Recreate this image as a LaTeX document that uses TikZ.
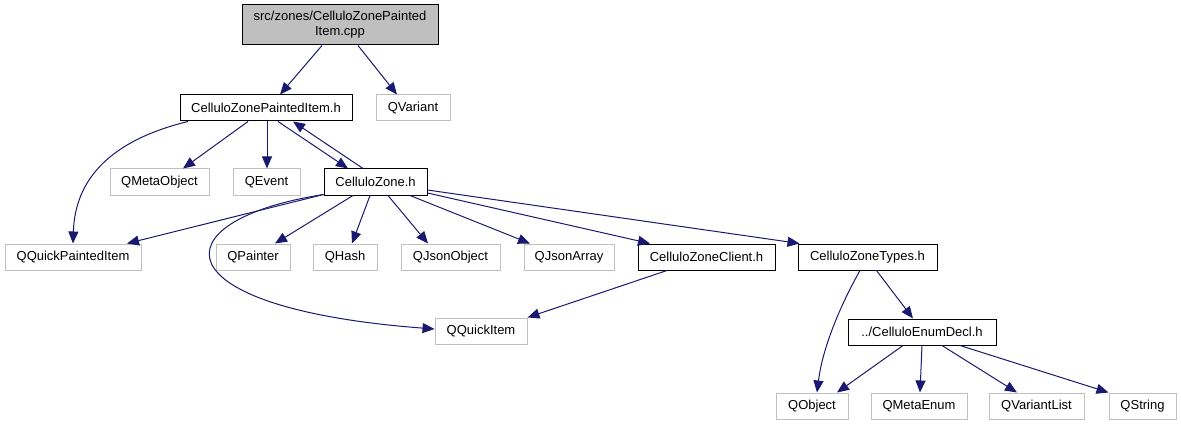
\documentclass[tikz,border=0pt]{standalone}
\usepackage{fontspec}
\setmainfont{Liberation Sans}
\usetikzlibrary{arrows.meta}
\definecolor{edgec}{HTML}{191970}
\definecolor{grayb}{HTML}{BFBFBF}
\definecolor{cppfill}{HTML}{BFBFBF}
\tikzset{
  basebox/.style={rectangle, inner sep=0pt, minimum height=26pt, font=\fontsize{13}{15}\selectfont, text=black, line width=1pt},
  hbox/.style={basebox, draw=black},
  gbox/.style={basebox, draw=grayb},
  dep/.style={draw=edgec, line width=1pt, -{Triangle[length=12pt,width=10pt]}}
}
\begin{document}
\begin{tikzpicture}[x=1pt,y=-1pt]
\useasboundingbox (0,0) rectangle (1181,425);
\node[hbox, fill=cppfill, minimum width=196pt, minimum height=40pt, align=center] (cpp) at (340,25) {src/zones/CelluloZonePainted\\Item.cpp};
\node[hbox, minimum width=172pt] (pih) at (266,108) {CelluloZonePaintedItem.h};
\node[gbox, minimum width=74pt] (qvariant) at (413,108) {QVariant};
\node[gbox, minimum width=99pt] (qmetaobject) at (159.5,182) {QMetaObject};
\node[gbox, minimum width=67pt] (qevent) at (266.5,182) {QEvent};
\node[hbox, minimum width=103pt] (cz) at (375.5,182) {CelluloZone.h};
\node[gbox, minimum width=136pt] (qqpi) at (73,257) {QQuickPaintedItem};
\node[gbox, minimum width=74pt] (qpainter) at (253,257) {QPainter};
\node[gbox, minimum width=64pt] (qhash) at (345,257) {QHash};
\node[gbox, minimum width=99pt] (qjo) at (450.5,257) {QJsonObject};
\node[gbox, minimum width=90pt] (qja) at (569,257) {QJsonArray};
\node[hbox, minimum width=137pt] (czc) at (706.5,257) {CelluloZoneClient.h};
\node[hbox, minimum width=139pt] (czt) at (867.5,257) {CelluloZoneTypes.h};
\node[gbox, minimum width=92pt] (qqi) at (481,331) {QQuickItem};
\node[hbox, minimum width=148pt] (ced) at (922,332) {../CelluloEnumDecl.h};
\node[gbox, minimum width=72pt] (qobj) at (812,406) {QObject};
\node[gbox, minimum width=96pt] (qme) at (919,406) {QMetaEnum};
\node[gbox, minimum width=95pt] (qvl) at (1036.5,406) {QVariantList};
\node[gbox, minimum width=67pt] (qstr) at (1142.5,406) {QString};

\draw[dep] ([xshift=-18pt]cpp.south) -- ([xshift=14pt]pih.north);
\draw[dep] ([xshift=18pt]cpp.south) -- ([xshift=-16pt]qvariant.north);
\draw[dep] ([xshift=-78pt]pih.south) .. controls +(-78,19) and +(2,-64) .. (qqpi.north);
\draw[dep] ([xshift=-18pt]pih.south) -- ([xshift=23.5pt]qmetaobject.north);
\draw[dep] ([xshift=1pt]pih.south) -- ([xshift=0.5pt]qevent.north);
\draw[dep] ([xshift=12pt]pih.south) -- ([xshift=-27.5pt]cz.north);
\draw[dep] ([xshift=-12.5pt]cz.north) -- ([xshift=27pt]pih.south);
\draw[dep] ([yshift=1pt]cz.south west) -- ([xshift=54pt]qqpi.north);
\draw[dep] ([yshift=1pt]cz.south west) .. controls +(-166,26) and +(-277,-21) .. ([yshift=2pt]qqi.west);
\draw[dep] ([xshift=-22.5pt]cz.south) -- ([xshift=22pt]qpainter.north);
\draw[dep] ([xshift=-5.5pt]cz.south) -- ([xshift=7pt]qhash.north);
\draw[dep] ([xshift=12.5pt]cz.south) -- ([xshift=-22.5pt]qjo.north);
\draw[dep] ([xshift=34.5pt]cz.south) -- ([xshift=-39pt]qja.north);
\draw[dep] ([yshift=-11pt]cz.east) -- ([xshift=-56.5pt]czc.north);
\draw[dep] ([yshift=-8pt]cz.east) -- ([xshift=2pt]czt.north west);
\draw[dep] ([xshift=-39.5pt]czc.south) -- (qqi.north east);
\draw[dep] ([xshift=-7.5pt]czt.south) .. controls +(-17,30) and +(6,-48) .. ([xshift=5pt]qobj.north);
\draw[dep] ([xshift=9pt]czt.south) -- ([xshift=-9pt]ced.north);
\draw[dep] ([xshift=-19pt]ced.south) -- ([xshift=25pt]qobj.north);
\draw[dep] (ced.south) -- ([xshift=1pt]qme.north);
\draw[dep] ([xshift=20pt]ced.south) -- ([xshift=-19.5pt]qvl.north);
\draw[dep] ([xshift=38pt]ced.south) -- (qstr.north west);
\end{tikzpicture}
\end{document}
